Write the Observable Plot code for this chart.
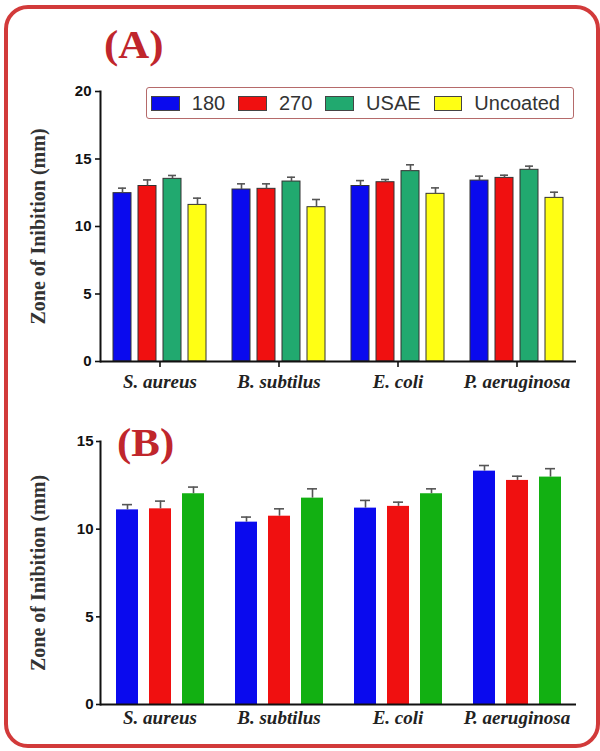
<!DOCTYPE html>
<html>
<head>
<meta charset="utf-8">
<script src="https://cdn.jsdelivr.net/npm/d3@7"></script>
<script src="https://cdn.jsdelivr.net/npm/@observablehq/plot@0.6"></script>
<style>
  html, body { margin: 0; padding: 0; background: #fff; }
  #wrap { position: relative; width: 600px; height: 751px; overflow: hidden; background: #fff; }
  #border { position: absolute; left: 4px; top: 5px; width: 588px; height: 735px; border: 4px solid #d23a3a; border-radius: 24px; }
  .panel { position: absolute; left: 0; }
  .tag { position: absolute; font-family: "Liberation Serif", "Times New Roman", serif; font-weight: bold; color: #c0262c; font-size: 39px; line-height: 1; transform: scaleX(1.1); transform-origin: left top; }
  #legend { position: absolute; left: 146px; top: 87px; width: 426px; height: 30px; border: 1.5px solid #b56a6a; border-radius: 3px; display: flex; align-items: center; font-family: "Liberation Sans", Arial, sans-serif; font-size: 20px; color: #333; box-sizing: content-box; }
  #legend .sw { width: 27px; height: 13px; border: 1px solid #444; margin-right: 12px; }
  #legend .lab { margin-right: 13px; }
</style>
</head>
<body>
<div id="wrap">
  <div id="border"></div>
  <div id="A" class="panel" style="top:0"></div>
  <div id="B" class="panel" style="top:400px"></div>
  <div class="tag" style="left:104px; top:25px;">(A)</div>
  <div class="tag" style="left:117px; top:423px;">(B)</div>
  <div id="legend"></div>
</div>
<script>
const categories = ["S. aureus", "B. subtilus", "E. coli", "P. aeruginosa"];
const seriesA = ["180", "270", "USAE", "Uncoated"];
const colorsA = ["#0a0aee", "#f01010", "#21a96f", "#ffff14"];
const seriesB = ["180", "270", "USAE"];
const colorsB = ["#0a0aee", "#f01010", "#12b012"];

// Panel A values (mm) and error bars
const a180 = [12.47, 12.74, 13.00, 13.40];
const a180Err = [0.37, 0.42, 0.40, 0.33];
const a270 = [13.00, 12.79, 13.28, 13.60];
const a270Err = [0.45, 0.37, 0.20, 0.20];
const aUSAE = [13.53, 13.33, 14.10, 14.20];
const aUSAEErr = [0.25, 0.32, 0.47, 0.27];
const aUncoated = [11.60, 11.43, 12.42, 12.12];
const aUncoatedErr = [0.50, 0.57, 0.44, 0.42];

// Panel B values (mm) and error bars
const b180 = [11.10, 10.40, 11.20, 13.31];
const b180Err = [0.30, 0.29, 0.44, 0.32];
const b270 = [11.16, 10.74, 11.30, 12.78];
const b270Err = [0.44, 0.42, 0.24, 0.24];
const bUSAE = [12.02, 11.77, 12.02, 12.97];
const bUSAEErr = [0.38, 0.53, 0.28, 0.48];

const ticksA = [0, 5, 10, 15, 20];
const ticksB = [0, 5, 10, 15];
const yLabel = "Zone of Inibition (mm)";

function build(series, vals, errs) {
  const out = [];
  categories.forEach((c, i) => {
    series.forEach((s, j) => {
      out.push({cat: c, series: s, value: vals[j][i], err: errs[j][i]});
    });
  });
  return out;
}
const dataA = build(seriesA, [a180, a270, aUSAE, aUncoated], [a180Err, a270Err, aUSAEErr, aUncoatedErr]);
const dataB = build(seriesB, [b180, b270, bUSAE], [b180Err, b270Err, bUSAEErr]);

const serif = "'Liberation Serif', 'Times New Roman', serif";
const sans = "'Liberation Sans', Arial, sans-serif";

function panel(data, series, colors, opts) {
  return Plot.plot({
    width: 600,
    height: opts.height,
    marginTop: opts.marginTop,
    marginBottom: opts.marginBottom,
    marginLeft: 98,
    marginRight: 23,
    style: {background: "transparent", color: "#111", overflow: "visible"},
    fx: {domain: categories, padding: 0, label: null},
    x: {domain: series, paddingInner: opts.pi, paddingOuter: opts.po, axis: null},
    y: {domain: opts.ydomain, label: null},
    color: {domain: series, range: colors},
    marks: [
      Plot.barY(data, {fx: "cat", x: "series", y: "value", fill: "series",
        stroke: opts.barStroke, strokeWidth: 1}),
      Plot.ruleX(data, {fx: "cat", x: "series", y1: "value", y2: d => d.value + d.err,
        stroke: "#555", strokeWidth: 1.6}),
      Plot.tickY(data, {fx: "cat", x: "series", y: d => d.value + d.err,
        insetLeft: opts.capInset, insetRight: opts.capInset, stroke: "#555", strokeWidth: 1.6}),
      Plot.ruleY([0], {stroke: "#111", strokeWidth: 2}),
      Plot.frame({anchor: "left", facetAnchor: "left", stroke: "#111", strokeWidth: 2}),
      Plot.axisY({ticks: opts.ticks, tickSize: opts.tickSize, tickPadding: opts.tickPadding,
        fontFamily: sans, fontWeight: "bold", fontSize: 15, label: null, strokeWidth: 1.6}),
      Plot.axisY({ticks: opts.ticks, tickSize: 0, tickFormat: () => "",
        label: yLabel, labelArrow: "none", labelAnchor: "center", labelOffset: opts.labelOffset,
        fontFamily: serif, fontWeight: "bold", fontSize: 20, fill: "#333"}),
      Plot.axisFx({anchor: "bottom", tickSize: opts.fxTickSize, tickPadding: opts.fxTickPadding, label: null,
        fontFamily: serif, fontStyle: "italic", fontWeight: "bold", fontSize: 19, fill: "#222", strokeWidth: 1.6})
    ]
  });
}

document.getElementById("A").append(panel(dataA, seriesA, colorsA, {
  height: 400, marginTop: 91, marginBottom: 39, ydomain: [0, 20], ticks: ticksA,
  pi: 0.29, po: 0.49, capInset: 5, barStroke: "#333",
  tickSize: 5, tickPadding: 4, labelOffset: 70, fxTickSize: 6, fxTickPadding: 7
}));
document.getElementById("B").append(panel(dataB, seriesB, colorsB, {
  height: 351, marginTop: 41, marginBottom: 47, ydomain: [0, 15], ticks: ticksB,
  pi: 0.34, po: 0.46, capInset: 6, barStroke: "none",
  tickSize: 4, tickPadding: 3, labelOffset: 70, fxTickSize: 0, fxTickPadding: 6
}));

const legend = document.getElementById("legend");
seriesA.forEach((s, i) => {
  const sw = document.createElement("span");
  sw.className = "sw";
  sw.style.background = colorsA[i];
  if (i === 0) sw.style.marginLeft = "4px";
  const lab = document.createElement("span");
  lab.className = "lab";
  lab.textContent = s;
  legend.append(sw, lab);
});
</script>
</body>
</html>
